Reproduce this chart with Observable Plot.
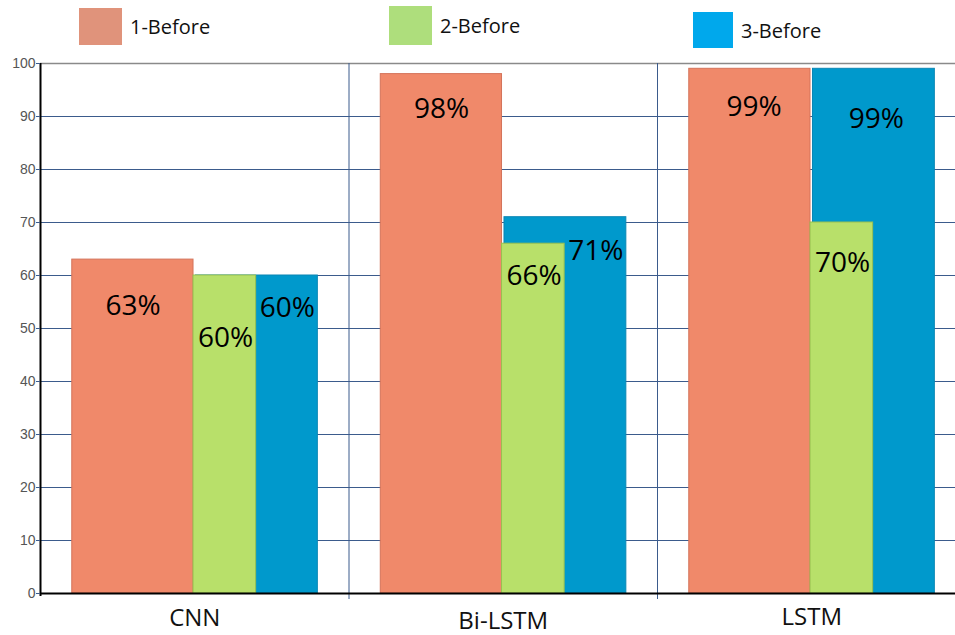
<!DOCTYPE html>
<html><head><meta charset="utf-8">
<script src="https://cdn.jsdelivr.net/npm/d3@7"></script>
<script src="https://cdn.jsdelivr.net/npm/@observablehq/plot@0.6"></script>
<style>
body{margin:0;background:#fff;}
#wrap{position:relative;width:955px;height:635px;overflow:hidden;font-family:"Open Sans",sans-serif;}
.item{position:absolute;display:flex;align-items:center;font-size:20px;color:#111;}
.sw{margin-right:8px;}
#chart{position:absolute;left:0;top:55px;}
</style></head><body>
<div id="wrap"><div id="legend"></div><div id="chart"></div></div>
<script>
// ---- data ----
const models = ["CNN", "Bi-LSTM", "LSTM"];
const series = ["1-Before", "2-Before", "3-Before"];
const before1 = [63, 98, 99];
const before2 = [60, 66, 70];
const before3 = [60, 71, 99];
const yTicks = [0, 10, 20, 30, 40, 50, 60, 70, 80, 90, 100];

// ---- style / layout ----
const barColors = ["#f0896a", "#b8e06a", "#0099cc"];
const barStrokes = ["#d4735a", "#98c050", "#0a86b4"];
const legendColors = ["#e0937b", "#aede7c", "#00a8ec"];
const barStart = [0.103, 0.496, 0.504];   // fraction of group band
const barEnd = [0.496, 0.699, 0.899];
const labelPos = [0.30, 0.60, 0.80];
// label pixel offsets below bar top, per series per model
const labelDy = [[46, 35, 38], [63, 32, 41], [33, 34, 50]];
const labelDx = [[0, 0, 4], [0, 0, 0], [0, 0, -28]];
const modelDy = [25, 28, 24];
const drawOrder = [0, 2, 1];
const legendLayout = [
  {left: 79, top: 8, w: 43, h: 37},
  {left: 389, top: 6, w: 43, h: 39},
  {left: 693, top: 12, w: 40, h: 36}
];

const values = [before1, before2, before3];
const rows = [];
drawOrder.forEach(s => models.forEach((m, i) => rows.push({
  model: m, series: series[s], s, i, value: values[s][i],
  x1: i + barStart[s], x2: i + barEnd[s], lx: i + labelPos[s]
})));

// legend
const leg = document.getElementById("legend");
series.forEach((name, s) => {
  const L = legendLayout[s];
  const d = document.createElement("div");
  d.className = "item";
  d.style.left = L.left + "px";
  d.style.top = L.top + "px";
  d.innerHTML = `<div class="sw" style="width:${L.w}px;height:${L.h}px;background:${legendColors[s]}"></div><span>${name}</span>`;
  leg.appendChild(d);
});

const gridColor = "#3b5b8c";
const labelMarks = rows.map(r => Plot.text([r], {
  x: "lx", y: "value", text: d => d.value + "%",
  dy: labelDy[r.s][r.i], dx: labelDx[r.s][r.i],
  fontSize: 28, fill: "#000", textAnchor: "middle", lineAnchor: "middle"
}));
const modelMarks = models.map((m, i) => Plot.text([m], {
  x: () => i + 0.5, y: 0, text: d => d, dy: modelDy[i],
  fontSize: 24, fill: "#111", textAnchor: "middle", lineAnchor: "middle"
}));

const chart = Plot.plot({
  width: 955,
  height: 580,
  marginTop: 8,
  marginBottom: 42,
  marginLeft: 40,
  marginRight: 0,
  style: {fontFamily: "'Open Sans', sans-serif", background: "#fff", overflow: "visible"},
  x: {domain: [0, models.length], range: [40, 965.5], axis: null},
  y: {domain: [0, 100], axis: null},
  marks: [
    Plot.ruleY(yTicks.filter(t => t > 0 && t < 100), {stroke: gridColor, strokeWidth: 1}),
    Plot.ruleY([100], {stroke: "#8a8a8a", strokeWidth: 1.5}),
    Plot.ruleX(d3.range(1, models.length), {stroke: gridColor, strokeWidth: 1, insetBottom: -6}),
    Plot.rectY(rows, {
      x1: "x1", x2: "x2", y1: 0, y2: "value",
      fill: d => barColors[d.s], stroke: d => barStrokes[d.s], strokeWidth: 1
    }),
    ...labelMarks,
    Plot.ruleY([0], {stroke: "#000", strokeWidth: 2}),
    Plot.ruleX([0], {stroke: "#000", strokeWidth: 2, insetBottom: -3}),
    Plot.axisY(yTicks, {
      tickSize: 4, tickPadding: 1, stroke: gridColor, fill: "#555",
      fontSize: 14, fontFamily: "'Liberation Sans', Arial, sans-serif", label: null
    }),
    ...modelMarks
  ]
});
document.getElementById("chart").appendChild(chart);
</script>
</body></html>
